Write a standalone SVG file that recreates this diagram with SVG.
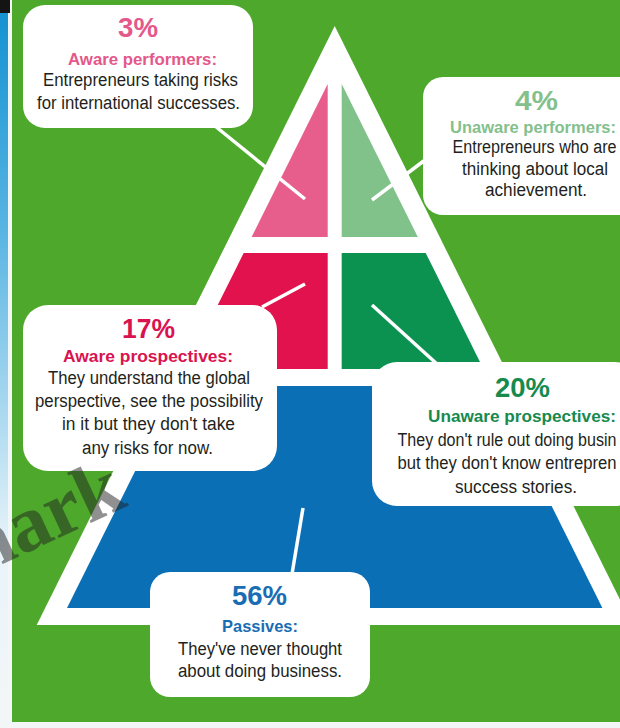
<svg xmlns="http://www.w3.org/2000/svg" width="620" height="728" viewBox="0 0 620 728">
  <defs>
    <linearGradient id="edgeStrip" x1="0" y1="0" x2="0" y2="1">
      <stop offset="0" stop-color="#1592d2"/>
      <stop offset="0.3" stop-color="#57b4e2"/>
      <stop offset="0.75" stop-color="#e9f4fa"/>
      <stop offset="1" stop-color="#f3f6f7"/>
    </linearGradient>
    <style>
      .t { font-family: "Liberation Sans", Arial, sans-serif; text-anchor: middle; }
      .pct { font-size: 27px; font-weight: bold; }
      .lbl { font-size: 17px; font-weight: bold; }
      .body { font-size: 18px; fill: #231f20; }
      .bubble { fill: #ffffff; }
      .lead { stroke: #ffffff; stroke-width: 3.5; stroke-linecap: butt; fill: none; }
      .c-pink { fill: #e4588a; }
      .c-lgreen { fill: #84c08c; }
      .c-red { fill: #d9134f; }
      .c-dgreen { fill: #178a4e; }
      .c-blue { fill: #1a6db3; }
    </style>
  </defs>

  <!-- page background and left edge strip -->
  <g id="background">
    <rect x="0" y="0" width="620" height="728" fill="#f3f6f7"/>
    <rect x="0" y="12" width="8" height="716" fill="url(#edgeStrip)"/>
    <rect x="0" y="0" width="10" height="13" fill="#141414"/>
    <rect x="12" y="0" width="608" height="722" fill="#4da82b"/>
  </g>

  <!-- pyramid: white outline and four tiers -->
  <g id="pyramid">
    <polygon points="334.7,26 36.7,625 632.7,625" fill="#ffffff"/>
    <polygon id="tier-aware-performers" points="327.7,84.1 327.7,237 251.6,237" fill="#e75d8b"/>
    <polygon id="tier-unaware-performers" points="341.7,84.1 341.7,237 417.8,237" fill="#80c28a"/>
    <polygon id="tier-aware-prospectives" points="243.7,253 327.7,253 327.7,369 185.9,369" fill="#e2124e"/>
    <polygon id="tier-unaware-prospectives" points="341.7,253 425.7,253 483.5,369 341.7,369" fill="#0b9150"/>
    <polygon id="tier-passives" points="177.5,386 491.9,386 602.4,608 67,608" fill="#0a6fb5"/>
  </g>

  <!-- leader lines from callouts into tiers -->
  <g id="connectors">
    <line class="lead" x1="215" y1="126" x2="305" y2="199"/>
    <line class="lead" x1="425" y1="160" x2="372" y2="200"/>
    <line class="lead" x1="262" y1="307" x2="305" y2="284"/>
    <line class="lead" x1="372" y1="305" x2="437" y2="364"/>
    <line class="lead" x1="303" y1="508" x2="292" y2="574"/>
  </g>

  <g id="callout-aware-performers">
    <rect class="bubble" x="23" y="5" width="230" height="123" rx="22"/>
    <text class="t pct c-pink" x="138" y="37" textLength="40" lengthAdjust="spacingAndGlyphs">3%</text>
    <text class="t lbl c-pink" x="142.5" y="65" textLength="149" lengthAdjust="spacingAndGlyphs">Aware performers:</text>
    <text class="t body" x="140.5" y="86" textLength="195" lengthAdjust="spacingAndGlyphs">Entrepreneurs taking risks</text>
    <text class="t body" x="138.5" y="109" textLength="203" lengthAdjust="spacingAndGlyphs">for international successes.</text>
  </g>

  <g id="callout-unaware-performers">
    <rect class="bubble" x="423" y="77" width="217" height="138" rx="20"/>
    <text class="t pct c-lgreen" x="536.5" y="110" textLength="43" lengthAdjust="spacingAndGlyphs">4%</text>
    <text class="t lbl c-lgreen" x="533" y="133" textLength="166" lengthAdjust="spacingAndGlyphs">Unaware performers:</text>
    <text class="t body" x="534.5" y="153" textLength="164" lengthAdjust="spacingAndGlyphs">Entrepreneurs who are</text>
    <text class="t body" x="535" y="174.5" textLength="146" lengthAdjust="spacingAndGlyphs">thinking about local</text>
    <text class="t body" x="536" y="196" textLength="102" lengthAdjust="spacingAndGlyphs">achievement.</text>
  </g>

  <g id="callout-aware-prospectives">
    <rect class="bubble" x="23" y="305" width="254" height="166" rx="25"/>
    <text class="t pct c-red" x="148.5" y="338" textLength="53" lengthAdjust="spacingAndGlyphs">17%</text>
    <text class="t lbl c-red" x="148" y="362" textLength="170" lengthAdjust="spacingAndGlyphs">Aware prospectives:</text>
    <text class="t body" x="149" y="384" textLength="202" lengthAdjust="spacingAndGlyphs">They understand the global</text>
    <text class="t body" x="149" y="407" textLength="228" lengthAdjust="spacingAndGlyphs">perspective, see the possibility</text>
    <text class="t body" x="148.5" y="430" textLength="173" lengthAdjust="spacingAndGlyphs">in it but they don't take</text>
    <text class="t body" x="147.5" y="453.5" textLength="131" lengthAdjust="spacingAndGlyphs">any risks for now.</text>
  </g>

  <g id="callout-unaware-prospectives">
    <rect class="bubble" x="372" y="362" width="268" height="144" rx="25"/>
    <text class="t pct c-dgreen" x="522.5" y="397" textLength="55" lengthAdjust="spacingAndGlyphs">20%</text>
    <text class="t lbl c-dgreen" x="522" y="422" textLength="188" lengthAdjust="spacingAndGlyphs">Unaware prospectives:</text>
    <text class="t body" x="507" y="446" textLength="219" lengthAdjust="spacingAndGlyphs">They don't rule out doing busin</text>
    <text class="t body" x="507" y="469" textLength="219" lengthAdjust="spacingAndGlyphs">but they don't know entrepren</text>
    <text class="t body" x="516" y="493" textLength="122" lengthAdjust="spacingAndGlyphs">success stories.</text>
  </g>

  <g id="callout-passives">
    <rect class="bubble" x="150" y="572" width="220" height="125" rx="20"/>
    <text class="t pct c-blue" x="259.5" y="605" textLength="55" lengthAdjust="spacingAndGlyphs">56%</text>
    <text class="t lbl c-blue" x="260" y="632" textLength="76" lengthAdjust="spacingAndGlyphs">Passives:</text>
    <text class="t body" x="260" y="655" textLength="164" lengthAdjust="spacingAndGlyphs">They've never thought</text>
    <text class="t body" x="260" y="677" textLength="164" lengthAdjust="spacingAndGlyphs">about doing business.</text>
  </g>

  <!-- translucent stamp text over the lower left corner -->
  <g id="watermark">
    <text x="0" y="0" transform="translate(-40,584) rotate(-25)" font-family="'Liberation Serif', 'Times New Roman', serif" font-size="80" font-weight="bold" fill="#222222" fill-opacity="0.5">mark</text>
  </g>
</svg>
